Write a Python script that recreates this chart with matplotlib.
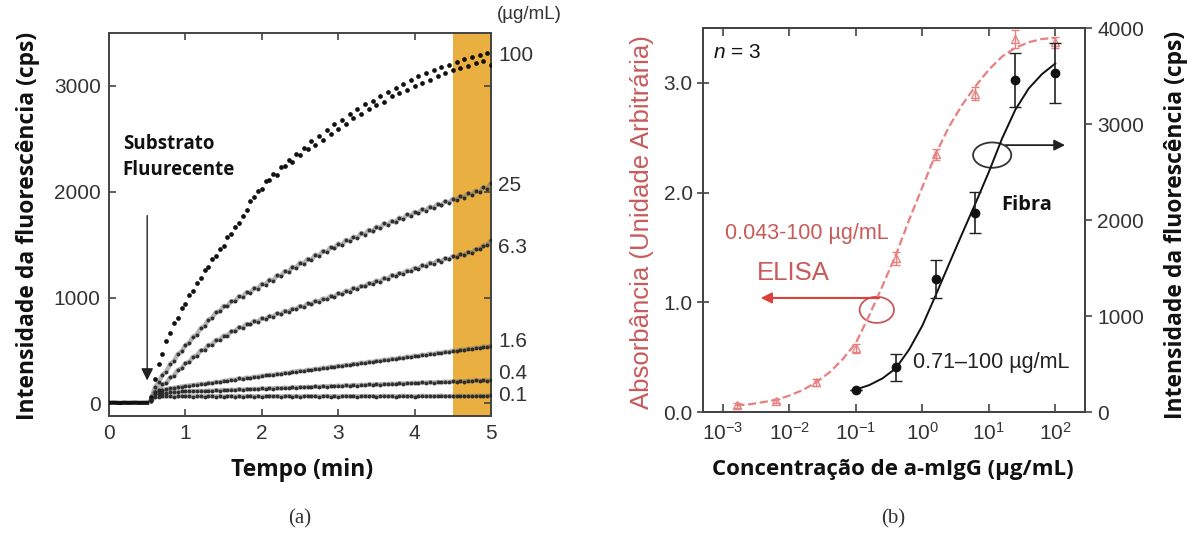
import matplotlib
matplotlib.use("Agg")
import matplotlib.pyplot as plt
import numpy as np
from matplotlib.patches import Ellipse

plt.rcParams["font.family"] = ["Liberation Sans", "DejaVu Sans"]
plt.rcParams["mathtext.fontset"] = "custom"
plt.rcParams["mathtext.it"] = "Liberation Sans:italic"
plt.rcParams["mathtext.rm"] = "Liberation Sans"

# ---- (a) kinetics: fluorescence vs time, one series per a-mIgG concentration ----
tempo_base = [0.0, 0.05, 0.1, 0.15, 0.2, 0.25, 0.3, 0.35, 0.4, 0.45, 0.5]
baseline = [4, 6, 5, 3, 6, 4, 5, 6, 4, 5, 5]
tempo = np.round(np.arange(0.55, 5.001, 0.05), 2)

c100 = [60, 230, 370, 470, 590, 660, 760, 810, 900, 940,
        1020, 1060, 1140, 1180, 1260, 1290, 1360, 1390, 1460, 1490,
        1570, 1600, 1670, 1700, 1770, 1830, 1910, 1950, 2010, 2030,
        2100, 2110, 2170, 2160, 2230, 2240, 2300, 2280, 2360, 2350,
        2410, 2400, 2480, 2440, 2530, 2490, 2580, 2550, 2640, 2590,
        2680, 2640, 2730, 2700, 2780, 2730, 2830, 2780, 2860, 2820,
        2900, 2850, 2940, 2900, 2980, 2930, 3020, 2960, 3060, 3000,
        3090, 3030, 3120, 3060, 3150, 3090, 3180, 3120, 3200, 3150,
        3230, 3170, 3250, 3190, 3270, 3220, 3290, 3240, 3310, 3200]
c25 = [40, 150, 200, 270, 300, 370, 400, 465, 490, 550,
       570, 630, 650, 710, 730, 790, 810, 860, 870, 920,
       920, 965, 965, 1010, 1005, 1050, 1045, 1090, 1085, 1130,
       1120, 1170, 1160, 1210, 1200, 1250, 1240, 1290, 1280, 1330,
       1320, 1365, 1355, 1405, 1395, 1440, 1430, 1475, 1465, 1510,
       1495, 1545, 1530, 1575, 1565, 1610, 1595, 1640, 1625, 1670,
       1655, 1700, 1685, 1725, 1710, 1755, 1740, 1785, 1770, 1810,
       1795, 1835, 1820, 1860, 1845, 1885, 1870, 1910, 1895, 1935,
       1920, 1960, 1945, 1985, 1970, 2010, 1995, 2040, 2030, 2080]
c63 = [30, 110, 130, 180, 190, 245, 260, 315, 330, 380,
       390, 440, 450, 500, 505, 550, 555, 600, 600, 640,
       640, 680, 680, 720, 715, 750, 745, 780, 770, 805,
       795, 825, 820, 850, 840, 875, 865, 895, 890, 920,
       910, 945, 935, 970, 960, 990, 985, 1015, 1005, 1040,
       1030, 1065, 1055, 1090, 1080, 1110, 1105, 1135, 1130, 1160,
       1150, 1185, 1175, 1210, 1200, 1230, 1225, 1255, 1250, 1280,
       1270, 1305, 1295, 1330, 1320, 1350, 1340, 1370, 1360, 1390,
       1380, 1410, 1400, 1430, 1425, 1455, 1460, 1490, 1500, 1540]
c16 = [30, 110, 118, 126, 132, 140, 146, 152, 158, 163, 168, 172, 176,
       184, 181, 194, 190, 203, 199, 212, 214, 223, 222,
       236, 229, 243, 238, 250, 252, 260, 263, 270, 266,
       279, 276, 288, 285, 298, 300, 308, 304, 317, 314,
       326, 323, 336, 333, 346, 342, 355, 352, 364, 361,
       374, 371, 384, 380, 393, 389, 402, 400, 412, 410,
       422, 418, 431, 427, 441, 436, 450, 446, 460, 455,
       469, 465, 478, 474, 488, 484, 498, 493, 507, 503,
       517, 512, 526, 522, 536, 532, 545]
c04 = [25, 85, 92, 98, 102, 105, 108, 110, 112, 113, 114, 115, 116,
       118, 115, 121, 118, 123, 120, 126, 123, 129, 125,
       132, 128, 134, 131, 137, 133, 140, 136, 142, 139,
       146, 141, 148, 144, 151, 147, 153, 150, 156, 152,
       159, 155, 162, 158, 164, 161, 167, 163, 170, 166,
       173, 168, 175, 172, 178, 174, 180, 177, 183, 179,
       186, 182, 189, 185, 191, 188, 194, 190, 197, 193,
       200, 195, 202, 198, 205, 201, 207, 204, 210, 206,
       213, 209, 216, 212, 218, 215, 220]
c01 = [20, 60, 64, 66, 65, 67, 64, 66, 68, 65, 67, 64, 66,
       68, 63, 66, 69, 64, 67, 62, 66, 69, 64,
       67, 63, 66, 70, 64, 67, 62, 66, 69, 65,
       68, 63, 66, 70, 64, 67, 63, 66, 69, 65,
       68, 63, 67, 70, 64, 67, 63, 66, 70, 65,
       68, 64, 67, 70, 65, 68, 63, 67, 70, 66,
       69, 64, 67, 71, 65, 68, 64, 67, 71, 66,
       69, 65, 68, 72, 66, 69, 65, 68, 72, 67,
       70, 66, 69, 73, 68, 71, 74]

curvas = [c100, c25, c63, c16, c04, c01]
rotulos = ["100", "25", "6.3", "1.6", "0.4", "0.1"]
rotulo_y = [3290, 2055, 1470, 585, 283, 75]

# ---- (b) calibration: ELISA (left axis) and fibre (right axis) ----
elisa_conc = [0.0016, 0.0063, 0.025, 0.1, 0.4, 1.6, 6.25, 25, 100]
elisa_abs = [0.06, 0.10, 0.27, 0.58, 1.40, 2.35, 2.90, 3.40, 3.37]
elisa_err = [0.02, 0.02, 0.03, 0.04, 0.06, 0.05, 0.06, 0.08, 0.05]
elisa_fit_logx = [-2.8, -2.6, -2.4, -2.2, -2.0, -1.8, -1.6, -1.4, -1.2, -1.0, -0.8, -0.6,
                  -0.4, -0.2, 0.0, 0.2, 0.4, 0.6, 0.8, 1.0, 1.2, 1.4, 1.6, 1.8, 2.0]
elisa_fit = [0.06, 0.07, 0.09, 0.11, 0.15, 0.20, 0.27, 0.36, 0.48, 0.63, 0.88, 1.15,
             1.43, 1.75, 2.05, 2.35, 2.60, 2.80, 2.97, 3.12, 3.24, 3.32, 3.37, 3.40, 3.41]

fibra_conc = [0.1, 0.4, 1.6, 6.3, 25, 100]
fibra_cps = [234, 465, 1385, 2077, 3458, 3530]
fibra_err = [0, 140, 200, 215, 280, 310]
fibra_fit_logx = [-1.0, -0.8, -0.6, -0.4, -0.2, 0.0, 0.2, 0.4, 0.6, 0.8, 1.0, 1.2, 1.4,
                  1.6, 1.8, 2.0]
fibra_fit = [234, 280, 350, 455, 650, 900, 1215, 1540, 1860, 2175, 2500, 2850, 3150,
             3370, 3520, 3630]

W, H = 1195, 535
fig = plt.figure(figsize=(W / 100, H / 100), dpi=100)

def px(x, y):
    return x / W, 1 - y / H

lab_font = dict(family=["Open Sans", "DejaVu Sans"], weight="bold")
tick_col = "#333333"
spine_col = "#444444"
red = "#C85A5A"
red_light = "#E88080"
tick_size = 15

# ---------------- panel (a) ----------------
ax1 = fig.add_axes([109 / W, 1 - 416 / H, 382 / W, 383 / H])
ax1.axvspan(4.5, 5.0, color="#E9B041", zorder=0, lw=0)
ax1.plot(tempo_base, baseline, "-", color="#111111", lw=3, zorder=3)
for i, vals in enumerate(curvas):
    if i == 0:
        ax1.plot(tempo, vals, "o", color="#111111", ms=3.4, mew=0, zorder=3)
    else:
        ax1.plot(tempo, vals, "-", color="#777777", lw=3.2, alpha=0.55, zorder=2)
        ax1.plot(tempo, vals, "o", color="#222222", ms=2.8, mew=0, alpha=0.9, zorder=3)
ax1.set_xlim(0, 5)
ax1.set_ylim(-120, 3500)
ax1.set_xticks([0, 1, 2, 3, 4, 5])
ax1.set_yticks([0, 1000, 2000, 3000])
ax1.tick_params(direction="in", top=True, right=True, length=5, width=1.2,
                colors=spine_col, labelcolor=tick_col, labelsize=tick_size, pad=6)
for s in ax1.spines.values():
    s.set_color(spine_col)
    s.set_linewidth(1.4)

ax1.annotate("", xy=(0.5, 190), xytext=(0.5, 1800),
             arrowprops=dict(arrowstyle="-|>", color="#222222", lw=1.0, mutation_scale=18))
ax1.text(0.18, 2330, "Substrato\nFluurecente", fontsize=13.5, linespacing=1.4,
         va="center", ha="left", color="#111111", **lab_font)

for lab, yv in zip(rotulos, rotulo_y):
    ax1.text(5.09, yv, lab, fontsize=tick_size, color=tick_col, va="center", ha="left",
             clip_on=False)
ax1.text(5.08, 3675, "(µg/mL)", fontsize=13.5, color=tick_col, va="center", ha="left",
         clip_on=False)

fig.text(*px(28, 226), "Intensidade da fluorescência (cps)", rotation=90, fontsize=16.5,
         ha="center", va="center", color="#111111", **lab_font)
fig.text(*px(302, 470), "Tempo (min)", fontsize=16.5, ha="center", va="center",
         color="#111111", **lab_font)
fig.text(*px(300, 519), "(a)", fontsize=15, ha="center", va="center",
         family="Liberation Serif", color="#333333")

# ---------------- panel (b) ----------------
ax2 = fig.add_axes([703 / W, 1 - 412 / H, 382 / W, 384 / H])
ax2r = ax2.twinx()

ax2.plot(10 ** np.array(elisa_fit_logx), elisa_fit, "--", color=red_light, lw=1.6)
ax2.errorbar(elisa_conc, elisa_abs, yerr=elisa_err, fmt="^", mfc="none", mec=red_light,
             ms=6, ecolor=red_light, elinewidth=1, capsize=3)

ax2r.plot(10 ** np.array(fibra_fit_logx), fibra_fit, "-", color="#111111", lw=1.4)
ax2r.errorbar(fibra_conc, fibra_cps, yerr=fibra_err, fmt="o", color="#111111", ms=6,
              ecolor="#222222", elinewidth=1.2, capsize=4)

ax2.set_xscale("log")
ax2.set_xlim(5e-4, 280)
ax2.set_ylim(0, 3.5)
ax2r.set_ylim(0, 4000)
ax2.set_xticks([1e-3, 1e-2, 1e-1, 1e0, 1e1, 1e2])
ax2.xaxis.set_minor_locator(matplotlib.ticker.NullLocator())
ax2.set_yticks([0, 1, 2, 3])
ax2.set_yticklabels(["0.0", "1.0", "2.0", "3.0"])
ax2r.set_yticks([0, 1000, 2000, 3000, 4000])
ax2.tick_params(axis="x", direction="in", top=True, length=6, width=1.2,
                colors=spine_col, labelcolor=tick_col, labelsize=tick_size, pad=7)
ax2.tick_params(axis="y", direction="inout", length=9, width=1.2,
                colors=spine_col, labelcolor=tick_col, labelsize=tick_size, pad=3)
ax2r.tick_params(axis="y", direction="out", length=5, width=1.2,
                 colors=spine_col, labelcolor=tick_col, labelsize=tick_size, pad=4)
for a in (ax2, ax2r):
    for s in a.spines.values():
        s.set_color(spine_col)
        s.set_linewidth(1.4)

ax2.text(0.026, 0.935, "$n$ = 3", transform=ax2.transAxes, fontsize=15, color="#111111",
         va="center", ha="left")
ax2.text(0.058, 0.464, "0.043-100 µg/mL", transform=ax2.transAxes, fontsize=15.5,
         color=red, va="center", ha="left")
ax2.text(0.142, 0.362, "ELISA", transform=ax2.transAxes, fontsize=18.5,
         color=red, va="center", ha="left")
ax2.text(0.78, 0.539, "Fibra", transform=ax2.transAxes, fontsize=14.5,
         color="#111111", va="center", ha="left", **lab_font)
ax2.text(0.55, 0.13, "0.71–100 µg/mL", transform=ax2.transAxes, fontsize=15.5,
         color="#222222", va="center", ha="left")

ax2.add_patch(Ellipse((0.455, 0.266), 0.09, 0.068, transform=ax2.transAxes,
                      fill=False, ec=red, lw=1.3))
ax2.annotate("", xy=(0.144, 0.297), xytext=(0.468, 0.297), xycoords="axes fraction",
             arrowprops=dict(arrowstyle="-|>", color="#D9413E", lw=1.5, mutation_scale=16))
ax2.add_patch(Ellipse((0.757, 0.669), 0.1, 0.066, transform=ax2.transAxes,
                      fill=False, ec="#333333", lw=1.3))
ax2.annotate("", xy=(0.955, 0.695), xytext=(0.785, 0.695), xycoords="axes fraction",
             arrowprops=dict(arrowstyle="-|>", color="#222222", lw=1.3, mutation_scale=16))

fig.text(*px(642, 222), "Absorbância (Unidade Arbitrária)", rotation=90, fontsize=18.5,
         ha="center", va="center", color=red)
fig.text(*px(1176, 225), "Intensidade da fluorescência (cps)", rotation=90, fontsize=16.5,
         ha="center", va="center", color="#111111", **lab_font)
fig.text(*px(893, 470), "Concentração de a-mIgG (µg/mL)", fontsize=16, ha="center",
         va="center", color="#111111", **lab_font)
fig.text(*px(893, 519), "(b)", fontsize=15, ha="center", va="center",
         family="Liberation Serif", color="#333333")

fig.savefig("out.png", dpi=100)
